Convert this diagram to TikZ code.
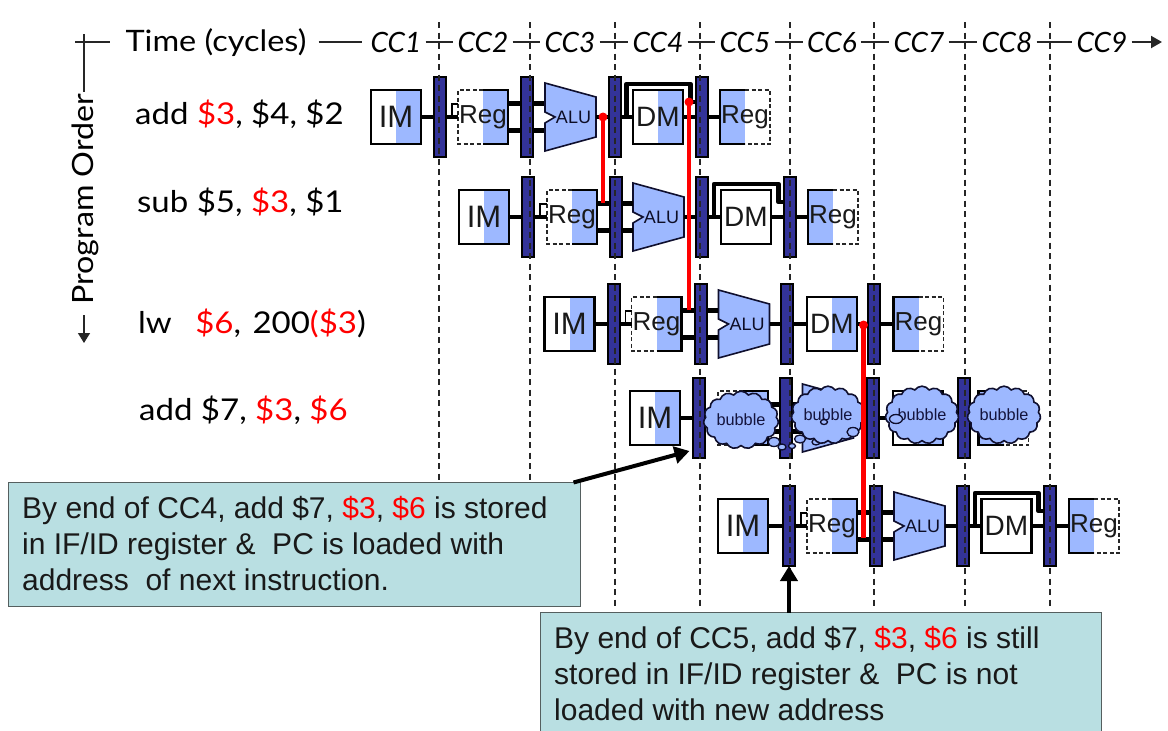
\documentclass[tikz,border=0pt]{standalone}
\usepackage{fontspec}
\setmainfont{Liberation Sans}
\newfontfamily\handfont[FakeStretch=1.1]{Lato}
\newfontfamily\ccfont{Lato}
\usetikzlibrary{arrows.meta,shapes.symbols,shapes.geometric,calc}
\definecolor{stageblue}{HTML}{9DB8FF}
\definecolor{navy}{HTML}{333399}
\definecolor{note}{HTML}{B9DFE2}
\definecolor{noteline}{HTML}{555F5F}
\tikzset{
  x=1pt,y=-1pt,
  wire/.style={line width=4.5pt,black},
  thinwire/.style={line width=1.8pt,black},
  unit/.style={minimum width=50pt,minimum height=54pt,inner sep=0pt,outer sep=0pt},
  blueright/.style={path picture={\fill[stageblue] (path picture bounding box.north) rectangle (path picture bounding box.south east);}},
  blueleft/.style={path picture={\fill[stageblue] (path picture bounding box.north) rectangle (path picture bounding box.south west);}},
  solidbox/.style={unit,draw=black,line width=2.4pt},
  dashedge/.style={line width=1.2pt,dash pattern=on 4pt off 2.5pt,black!85},
  solidedge/.style={line width=2.4pt,black},
  pipereg/.style={minimum width=12pt,minimum height=80pt,inner sep=0pt,outer sep=0pt,fill=navy,draw=black,line width=2pt},
  imlabel/.style={font=\fontsize{31}{31}\selectfont,text=black!90},
  dmlabel/.style={font=\fontsize{28}{28}\selectfont,text=black!90},
  reglabel/.style={font=\fontsize{26}{26}\selectfont,text=black!90},
  alulabel/.style={minimum width=51pt,minimum height=68pt,inner sep=0pt,outer sep=0pt,font=\fontsize{18}{18}\selectfont,text=black!75!navy},
  aluhull/.style={fill=stageblue,draw=black!70!navy,line width=1.6pt,line join=miter},
  vguide/.style={line width=1.2pt,dash pattern=on 6pt off 4.5pt,black!85},
  axisline/.style={line width=1.4pt,black!85},
  cclabel/.style={font=\ccfont\itshape\fontsize{28}{28}\selectfont,text height=20pt,text depth=0pt,inner sep=4pt,anchor=center},
  timelabel/.style={font=\handfont\fontsize{29.5}{29.5}\selectfont,inner sep=0pt},
  orderlabel/.style={font=\handfont\fontsize{29.3}{29.3}\selectfont,inner sep=0pt},
  instr/.style={font=\handfont\fontsize{30}{30}\selectfont,anchor=base west,inner sep=0pt},
  bubblecloud/.style={cloud,cloud puffs=15,cloud puff arc=110,aspect=1.35,fill=stageblue,draw=black!70!navy,line width=1.6pt,inner sep=0pt,font=\fontsize{16.3}{16.3}\selectfont,text=navy!40!black},
  smallpuff/.style={ellipse,fill=stageblue,draw=black!70!navy,line width=1.3pt,inner sep=0pt},
  forward/.style={line width=4.5pt,red},
  forwarddot/.style={circle,fill=red,inner sep=0pt,minimum size=9pt},
  notebox/.style={fill=note,draw=noteline,line width=1.8pt,inner sep=0pt,outer sep=0pt},
  notetext/.style={font=\fontsize{30}{36}\selectfont,align=left,anchor=north west,inner sep=0pt,text=black!90},
  callarrow/.style={line width=4pt,black,-{Triangle[length=15pt,width=17pt]}}
}
\newcommand{\imunit}[3]{\node[solidbox,blueright,imlabel] (#1) at (#2,#3) {IM};}
\newcommand{\dmunit}[4][DM]{\node[solidbox,blueright,dmlabel] (#2) at (#3,#4) {#1};}
\newcommand{\dmwhite}[3]{\node[solidbox,dmlabel] (#1) at (#2,#3) {DM};}
\newcommand{\regread}[4][Reg]{\node[unit,blueright,reglabel] (#2) at (#3,#4) {#1};
  \draw[dashedge] (#2.north) -- (#2.north west) -- (#2.south west) -- (#2.south);
  \draw[solidedge] (#2.north) -- (#2.north east) -- (#2.south east) -- (#2.south);}
\newcommand{\regwrite}[4][Reg]{\node[unit,blueleft,reglabel] (#2) at (#3,#4) {#1};
  \draw[dashedge] (#2.north) -- (#2.north east) -- (#2.south east) -- (#2.south);
  \draw[solidedge] (#2.north) -- (#2.north west) -- (#2.south west) -- (#2.south);}
\newcommand{\aluunit}[4][\hspace{6pt}ALU]{\draw[aluhull,shift={(#3,#4)}] (-25.5,-34) -- (25.5,-20) -- (25.5,20) -- (-25.5,34) -- (-25.5,6) -- (-15.5,0) -- (-25.5,-5) -- cycle;
  \node[alulabel] (#2) at (#3,#4) {#1};}
\newcommand{\pipe}[3]{\node[pipereg] (#1) at (#2,#3) {};}
% wires of one row, named by prefix
\newcommand{\rowwires}[1]{
  \draw[wire] (#1im.east) -- (#1p1.west);
  \draw[wire] (#1p1.east) -- (#1rd.west);
  \draw[thinwire] ([xshift=6pt]#1p1.east) -- ([xshift=6pt,yshift=13pt]#1p1.east) -- ([yshift=13pt]#1rd.west);
  \draw[wire] ([yshift=13.5pt]#1rd.east) -- ([yshift=13.5pt]#1p2.west);
  \draw[wire] ([yshift=-13.5pt]#1rd.east) -- ([yshift=-13.5pt]#1p2.west);
  \draw[wire] ([yshift=13.5pt]#1p2.east) -- ([yshift=13.5pt,xshift=11pt]#1p2.east);
  \draw[wire] ([yshift=-13.5pt]#1p2.east) -- ([yshift=-13.5pt,xshift=11pt]#1p2.east);
  \draw[wire] (#1alu.east) -- (#1p3.west);
  \draw[wire] (#1p3.east) -- (#1dm.west);
  \draw[wire] (#1dm.east) -- (#1p4.west);
  \draw[wire] (#1p4.east) -- (#1wb.west);
}
\newcommand{\bypass}[1]{
  \draw[wire,line join=round] ([xshift=6pt]#1p3.east) -- ([xshift=6pt,yshift=33pt]#1p3.east) -- ([xshift=-5pt,yshift=33pt]#1p4.west) -- ([xshift=-5pt,yshift=15pt]#1p4.west) -- ([yshift=15pt]#1p4.west);
}
\begin{document}
\begin{tikzpicture}
\useasboundingbox (0,0) rectangle (1168,731);
\fill[white] (0,0) rectangle (1168,731);

% ---- row 1
\imunit{aim}{396}{117}\pipe{ap1}{440}{117}\regread{ard}{483}{117}\pipe{ap2}{527}{117}
\aluunit{aalu}{570.5}{117}\pipe{ap3}{614.5}{117}\dmunit{adm}{658}{117}\pipe{ap4}{701.5}{117}\regwrite{awb}{745}{117}
% ---- row 2
\imunit{bim}{484}{217}\pipe{bp1}{528}{217}\regread{brd}{572}{217}\pipe{bp2}{615.5}{217}
\aluunit{balu}{658.5}{217}\pipe{bp3}{702}{217}\dmwhite{bdm}{746}{217}\pipe{bp4}{789.5}{217}\regwrite{bwb}{833}{217}
% ---- row 3
\imunit{cim}{569.5}{324}\pipe{cp1}{613.5}{324}\regread{crd}{656.5}{324}\pipe{cp2}{700.5}{324}
\aluunit{calu}{744}{324}\pipe{cp3}{787}{324}\dmunit{cdm}{832}{324}\pipe{cp4}{873.5}{324}\regwrite{cwb}{918.5}{324}
% ---- row 4 (labels hidden by the bubbles)
\imunit{dim}{655}{418}\pipe{dp1}{698.5}{418}\regread[]{drd}{743}{418}\pipe{dp2}{786}{418}
\aluunit[]{dalu}{828}{418}\pipe{dp3}{872.5}{418}\dmunit[]{ddm}{918}{418}\pipe{dp4}{963.5}{418}\regwrite[]{dwb}{1003.5}{418}
% ---- row 5
\imunit{eim}{743}{526}\pipe{ep1}{789}{526}\regread{erd}{832}{526}\pipe{ep2}{876}{526}
\aluunit{ealu}{919.5}{526}\pipe{ep3}{963}{526}\dmwhite{edm}{1006.5}{526}\pipe{ep4}{1049.5}{526}\regwrite{ewb}{1094}{526}

\rowwires{a}\rowwires{b}\rowwires{c}\rowwires{d}\rowwires{e}
\bypass{a}\bypass{b}\bypass{e}

% ---- header
\coordinate (axT) at (84,34);
\coordinate (axL) at (75,42);
\coordinate (axB) at (84,92);
\coordinate (axO) at (110,42);
\coordinate (poB) at (84,315);
\coordinate (poE) at (84,343);
\coordinate (hEnd) at (1162,42);
\node[timelabel] (time) at (216,43) {Time (cycles)};
\foreach \n/\x in {1/396,2/483,3/570,4/658,5/745,6/832,7/919,8/1007,9/1102}
  \node[cclabel] (cc\n) at (\x,42) {CC\n};
\draw[axisline] (axT) -- (axB);
\draw[axisline] (axL) -- (axO);
\draw[axisline,shorten >=4pt] ([xshift=12pt]time.east |- cc1.west) -- (cc1.west);
\foreach \a/\b in {1/2,2/3,3/4,4/5,5/6,6/7,7/8,8/9}
  \draw[axisline] (cc\a.east) -- (cc\b.west);
\draw[axisline,line width=2pt,-{Triangle[length=11pt,width=12pt]}] (cc9.east) -- (hEnd);
\node[orderlabel,rotate=90] (order) at (85,199) {Program Order};
\draw[axisline,-{Triangle[length=10pt,width=12pt]}] (poB) -- (poE);

% ---- instruction labels
\node[instr] (i1) at (135,124) {add \textcolor{red}{\$3}, \$4, \$2};
\node[instr] (i2) at (137,212) {sub \$5, \textcolor{red}{\$3}, \$1};
\node[instr] (i3) at (138,333) {lw\hspace{15pt} \textcolor{red}{\$6}, \hspace{3pt}200\textcolor{red}{(\$3}\textcolor{black}{)}};
\node[instr] (i4) at (139,420) {add \$7, \textcolor{red}{\$3}, \textcolor{red}{\$6}};

% ---- vertical cycle guides
\foreach \x in {439,530,615,700,790,874,965,1050}
  \draw[vguide] (\x,22) -- (\x,606);

% ---- bubbles
\node[smallpuff,minimum width=12pt,minimum height=9pt] (s1) at (774,442) {};
\node[smallpuff,minimum width=8pt,minimum height=6pt] (s2) at (782,447) {};
\node[smallpuff,minimum width=7pt,minimum height=5pt] (s3) at (792,446) {};
\node[smallpuff,minimum width=11pt,minimum height=8pt] (s4) at (800,439) {};
\node[smallpuff,minimum width=8pt,minimum height=6pt] (s5) at (816,442) {};
\node[bubblecloud,minimum width=75pt,minimum height=55pt] (b1) at (741,420) {bubble};
\node[bubblecloud,minimum width=68pt,minimum height=54pt] (b2) at (828,415) {bubble};
\node[bubblecloud,minimum width=71pt,minimum height=53pt] (b3) at (922,415) {bubble};
\node[bubblecloud,minimum width=69pt,minimum height=53pt] (b4) at (1004,415) {bubble};
\node[smallpuff,minimum width=12pt,minimum height=9pt] (s6) at (853,432) {};
\node[smallpuff,minimum width=7pt,minimum height=5pt] (s7) at (824,422) {};
\node[smallpuff,minimum width=13pt,minimum height=9pt] (s8) at (896,419) {};

% ---- forwarding paths
\node[forwarddot] (fa) at (603,117) {};
\coordinate (fae) at (603,203);
\node[forwarddot] (fb) at (689,102) {};
\coordinate (fbe) at (689,310);
\node[forwarddot] (fc) at (863.5,325) {};
\coordinate (fce) at (863.5,538);
\draw[forward] (fa.center) -- (fae);
\draw[forward] (fb.center) -- (fbe);
\draw[forward] (fc.center) -- (fce);

% ---- notes
\node[notebox,minimum width=572pt,minimum height=124pt,anchor=north west] (n1) at (8.5,482.5) {};
\node[notetext] (n1t) at (22,496.5) {By end of CC4, add \$7, \textcolor{red}{\$3}, \textcolor{red}{\$6} is stored\\in IF/ID register \&\ \ PC is loaded with\\address\ \ of next instruction.};
\node[notebox,minimum width=561pt,minimum height=130pt,anchor=north west] (n2) at (540.5,612.5) {};
\node[notetext] (n2t) at (554,626.5) {By end of CC5, add \$7, \textcolor{red}{\$3}, \textcolor{red}{\$6} is still\\stored in IF/ID register \&\ \ PC is not\\loaded with new address};
\draw[callarrow] ([xshift=-7pt]n1.north east) -- ([xshift=-3pt,yshift=7pt]dp1.south west);
\draw[callarrow] (ep1.south |- n2.north) -- (ep1.south);
\end{tikzpicture}
\end{document}
